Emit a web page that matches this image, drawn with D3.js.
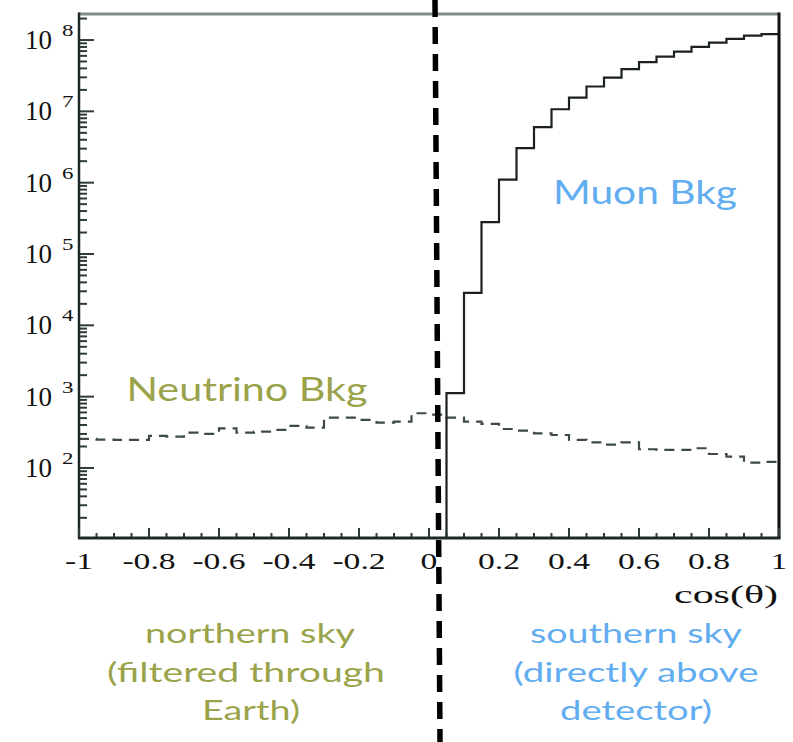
<!DOCTYPE html>
<html>
<head>
<meta charset="utf-8">
<script src="https://cdn.jsdelivr.net/npm/d3@7"></script>
<style>
  body { margin: 0; background: #fff; }
  svg { display: block; }
</style>
</head>
<body>
<svg id="chart" width="793" height="742"></svg>
<script>
// bin edges: 40 bins of 0.05 from -1 to 1
binStart = -1;
binWidth = 0.05;

// neutrino background (dashed), per bin from -1 to 1
neutrinoBkg = [255, 250, 247, 247, 281, 275, 312, 300, 360, 312,
               323, 341, 388, 368, 507, 507, 471, 432, 447, 585,
               560, 507, 447, 414, 352, 333, 306, 290, 247, 229,
               212, 228, 183, 179, 179, 189, 157, 144, 119, 122];

// muon background (solid), per bin from 0 to 1 (first bin empty)
muonStart = 0;
muonBkg = [0, 1120, 2.85e4, 2.8e5, 1.1e6, 3.05e6, 6.0e6, 1.07e7, 1.56e7, 2.23e7,
           2.98e7, 3.9e7, 4.9e7, 5.87e7, 6.9e7, 8.0e7, 9.2e7, 1.04e8, 1.15e8, 1.21e8];

xTicks = [-1, -0.8, -0.6, -0.4, -0.2, 0, 0.2, 0.4, 0.6, 0.8, 1];
xTickLabels = ['-1', '-0.8', '-0.6', '-0.4', '-0.2', '0', '0.2', '0.4', '0.6', '0.8', '1'];
yDecades = [2, 3, 4, 5, 6, 7, 8];

olive = '#9aa34a';
sky = '#62adf0';

width = 793;
height = 742;
plotLeft = 79;
plotRight = 779;
plotTop = 14;
plotBottom = 538;

const svg = d3.select('#chart');

const x = d3.scaleLinear().domain([-1, 1]).range([plotLeft, plotRight]);
const y = d3.scaleLog().domain([Math.pow(10, 1.018), Math.pow(10, 8.365)]).range([plotBottom, plotTop]);

function yv(v){
	if(v <= y.domain()[0]) return y(y.domain()[0]);
	return y(v);
}

// step path for a histogram
function histPoints(start, vals, dropEnds){
	let pts = [];
	if(dropEnds) pts.push([x(start), y(y.domain()[0])]);
	vals.forEach(function(v, i){
		pts.push([x(start + i*binWidth), yv(v)]);
		pts.push([x(start + (i+1)*binWidth), yv(v)]);
	});
	if(dropEnds) pts.push([x(start + vals.length*binWidth), y(y.domain()[0])]);
	return pts;
}

const line = d3.line();

// neutrino histogram
svg.append('path')
	.attr('d', line(histPoints(binStart, neutrinoBkg, false)))
	.attr('fill', 'none')
	.attr('stroke', '#3e4a4a')
	.attr('stroke-width', 2.2)
	.attr('stroke-dasharray', '10,7');

// muon histogram
svg.append('path')
	.attr('d', line(histPoints(muonStart, muonBkg, true)))
	.attr('fill', 'none')
	.attr('stroke', '#1b2020')
	.attr('stroke-width', 2.2);

// frame: top gray, right black
svg.append('line')
	.attr('x1', plotLeft).attr('x2', plotRight)
	.attr('y1', plotTop).attr('y2', plotTop)
	.attr('stroke', '#7d8c8c').attr('stroke-width', 3);
svg.append('line')
	.attr('x1', plotRight).attr('x2', plotRight)
	.attr('y1', plotTop - 1.5).attr('y2', plotBottom)
	.attr('stroke', '#111').attr('stroke-width', 3);

// y axis with ticks inside
const yAxisG = svg.append('g');
let yMinor = [];
for(let d = 1; d <= 8; d++){
	for(let m = 1; m <= 9; m++){
		let v = m * Math.pow(10, d);
		if(v >= y.domain()[0] && v <= y.domain()[1]) yMinor.push(v);
	}
}
yAxisG.selectAll('.ytick').data(yMinor).enter().append('line')
	.attr('x1', plotLeft)
	.attr('x2', d => plotLeft + (yDecades.indexOf(Math.round(Math.log10(d))) >= 0 && Math.abs(Math.log10(d) - Math.round(Math.log10(d))) < 1e-9 ? 15 : 8))
	.attr('y1', d => y(d)).attr('y2', d => y(d))
	.attr('stroke', '#2e3a3a').attr('stroke-width', 2);
yAxisG.append('line')
	.attr('x1', plotLeft).attr('x2', plotLeft)
	.attr('y1', plotTop - 1.5).attr('y2', plotBottom)
	.attr('stroke', '#1e2828').attr('stroke-width', 2.5);

yDecades.forEach(function(k){
	let ty = y(Math.pow(10, k));
	yAxisG.append('text')
		.attr('x', 52).attr('y', ty + 9)
		.attr('text-anchor', 'end')
		.style('font-family', '"Liberation Serif", "DejaVu Serif", serif')
		.style('font-size', '27px')
		.attr('fill', '#111')
		.text('10');
	yAxisG.append('g')
		.attr('transform', `translate(62, ${ty - 4}) scale(1.35, 1)`)
		.append('text')
		.style('font-family', '"Liberation Serif", "DejaVu Serif", serif')
		.style('font-size', '17px')
		.attr('fill', '#111')
		.text(k);
});

// x axis with ticks pointing up
const xAxisG = svg.append('g');
let xMinor = d3.range(0, 41).map(i => -1 + i*0.05);
xAxisG.selectAll('.xtick').data(xMinor).enter().append('line')
	.attr('x1', d => x(d)).attr('x2', d => x(d))
	.attr('y1', plotBottom)
	.attr('y2', (d, i) => plotBottom - (i % 4 == 0 ? 10 : 5))
	.attr('stroke', '#2e3a3a').attr('stroke-width', 2);
xAxisG.append('line')
	.attr('x1', plotLeft - 1).attr('x2', plotRight + 1.5)
	.attr('y1', plotBottom).attr('y2', plotBottom)
	.attr('stroke', '#1e2828').attr('stroke-width', 3);

xTicks.forEach(function(t, i){
	xAxisG.append('g')
		.attr('transform', `translate(${x(t)}, 569) scale(1.4, 1)`)
		.append('text')
		.attr('text-anchor', 'middle')
		.style('font-family', '"Liberation Serif", "DejaVu Serif", serif')
		.style('font-size', '24px')
		.attr('fill', '#111')
		.text(xTickLabels[i]);
});

svg.append('text')
	.attr('x', 778).attr('y', 603)
	.attr('text-anchor', 'end')
	.attr('textLength', 104)
	.attr('lengthAdjust', 'spacingAndGlyphs')
	.style('font-family', '"Liberation Serif", "DejaVu Serif", serif')
	.style('font-size', '26px')
	.attr('fill', '#111')
	.text('cos(θ)');

// vertical dashed divider
svg.append('line')
	.attr('x1', 435).attr('y1', 0)
	.attr('x2', 440).attr('y2', height)
	.attr('stroke', '#000')
	.attr('stroke-width', 5.5)
	.attr('stroke-dasharray', '17,10');

// labels
function label(txt, cx, by, len, size, color){
	svg.append('text')
		.attr('x', cx).attr('y', by)
		.attr('text-anchor', 'middle')
		.attr('textLength', len)
		.attr('lengthAdjust', 'spacingAndGlyphs')
		.style('font-family', 'Lato, "Open Sans", sans-serif')
		.style('font-size', size + 'px')
		.attr('fill', color)
		.text(txt);
}

label('Neutrino Bkg', 247, 401, 241, 32, olive);
label('Muon Bkg', 645, 204, 184, 33, sky);

label('northern sky', 250, 643, 210, 27, olive);
label('(filtered through', 246, 682, 278, 27, olive);
label('Earth)', 251, 720, 98, 27, olive);

label('southern sky', 636, 643, 212, 27, sky);
label('(directly above', 636, 682, 245, 27, sky);
label('detector)', 636, 720, 152, 27, sky);
</script>
</body>
</html>
